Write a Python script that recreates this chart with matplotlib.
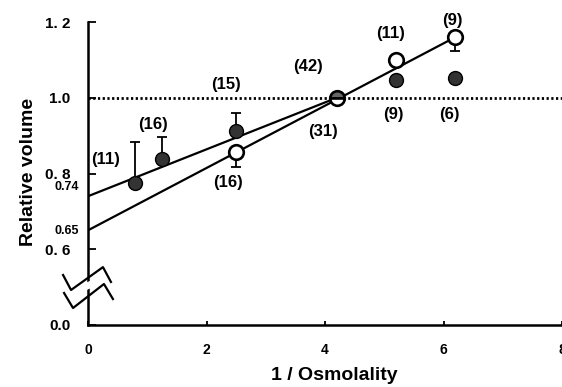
import numpy as np
import matplotlib
matplotlib.use('Agg')
import matplotlib.pyplot as plt

plt.rcParams['font.family'] = ['Liberation Sans', 'DejaVu Sans']

# ---- data ----
filled_x = [0.8, 1.25, 2.5, 5.2, 6.2]
filled_y = [0.776, 0.837, 0.911, 1.047, 1.053]
filled_err = [0.108, 0.060, 0.050, 0.0, 0.0]      # upper error only

open_x = [2.5, 5.2, 6.2]
open_y = [0.858, 1.10, 1.16]
open_err = [0.042, 0.0, 0.036]                   # lower error only

mid_x = [4.2]          # overlapping point (open on filled)
mid_y = [1.0]

fit_filled_x = [0.0, 4.2]
fit_filled_y = [0.74, 1.0]
fit_open_x = [0.0, 6.2]
fit_open_y = [0.65, 1.16]

n_labels = ['(11)', '(16)', '(15)', '(16)', '(42)', '(31)', '(11)', '(9)', '(9)', '(6)']
n_x = [0.29, 1.1, 2.33, 2.36, 3.72, 3.97, 5.1, 6.15, 5.16, 6.1]
n_y = [0.837, 0.929, 1.034, 0.776, 1.082, 0.911, 1.17, 1.205, 0.955, 0.955]

# y positions: the axis is broken, 0.0 drawn one step below 0.6
ytick_pos = [0.4, 0.6, 0.8, 1.0, 1.2]
ytick_lab = ['0.0', '0. 6', '0. 8', '1.0', '1. 2']
xticks = [0, 2, 4, 6, 8]

fig = plt.figure(figsize=(5.62, 3.87), dpi=100)
ax = fig.add_axes([88/562, 62/387, 474/562, 303/387])

ax.plot(fit_filled_x, fit_filled_y, color='k', lw=1.6, zorder=2)
ax.plot(fit_open_x, fit_open_y, color='k', lw=1.6, zorder=2)
ax.axhline(1.0, color='k', lw=2.0, ls=(0, (0.8, 0.9)), zorder=1)

ax.errorbar(filled_x, filled_y, yerr=[np.zeros(len(filled_err)), filled_err],
            fmt='none', ecolor='k', elinewidth=1.3, capsize=3.5, capthick=1.3, zorder=3)
ax.errorbar(open_x, open_y, yerr=[open_err, np.zeros(len(open_err))],
            fmt='none', ecolor='k', elinewidth=1.3, capsize=3.5, capthick=1.3, zorder=3)

ax.plot(filled_x, filled_y, 'o', ms=10, mfc='#333333', mec='k', mew=1.0, zorder=4)
ax.plot(open_x, open_y, 'o', ms=10.5, mfc='white', mec='k', mew=1.9, zorder=5)
ax.plot(mid_x, mid_y, 'o', ms=10.5, fillstyle='top', mfc='#666666', mfcalt='white',
        mec='k', mew=1.9, zorder=5)

for lab, x, y in zip(n_labels, n_x, n_y):
    ax.text(x, y, lab, ha='center', va='center', fontsize=12, fontweight='bold')

ax.set_xlim(0, 8.0)
ax.set_ylim(0.4, 1.2)
ax.set_xticks(xticks)
ax.set_xticklabels([str(v) for v in xticks], fontsize=10, fontweight='bold')
ax.set_yticks(ytick_pos)
ax.set_yticklabels(ytick_lab, fontsize=11, fontweight='bold')
ax.tick_params(direction='in', length=6, width=1.3, pad=12.5)
ax.tick_params(axis='x', length=3, pad=13)
# small intercept labels
ax.text(-0.15, 0.765, '0.74', ha='right', va='center', fontsize=9, fontweight='bold')
ax.text(-0.15, 0.648, '0.65', ha='right', va='center', fontsize=9, fontweight='bold')

for s in ['top', 'right']:
    ax.spines[s].set_visible(False)
for s in ['left', 'bottom']:
    ax.spines[s].set_linewidth(1.8)

ax.set_xlabel('1 / Osmolality', fontsize=14, fontweight='bold', va='center')
ax.set_ylabel('Relative volume', fontsize=14, fontweight='bold', va='center')
ax.xaxis.set_label_coords(0.52, -0.168)
ax.yaxis.set_label_coords(-0.126, 0.505)

# axis break marks
tr = ax.transAxes
ax.fill([-0.02, 0.02, 0.02, -0.02], [0.105, 0.135, 0.155, 0.125], color='white',
        transform=tr, clip_on=False, zorder=6)
ax.plot([-0.0526, -0.0358, 0.0316, 0.0484], [0.165, 0.1155, 0.191, 0.142], color='k',
        lw=1.6, transform=tr, clip_on=False, zorder=7)
ax.plot([-0.0505, -0.0316, 0.0337, 0.0526], [0.1056, 0.0561, 0.1353, 0.0858], color='k',
        lw=1.6, transform=tr, clip_on=False, zorder=7)

fig.savefig('out.png', dpi=100)
